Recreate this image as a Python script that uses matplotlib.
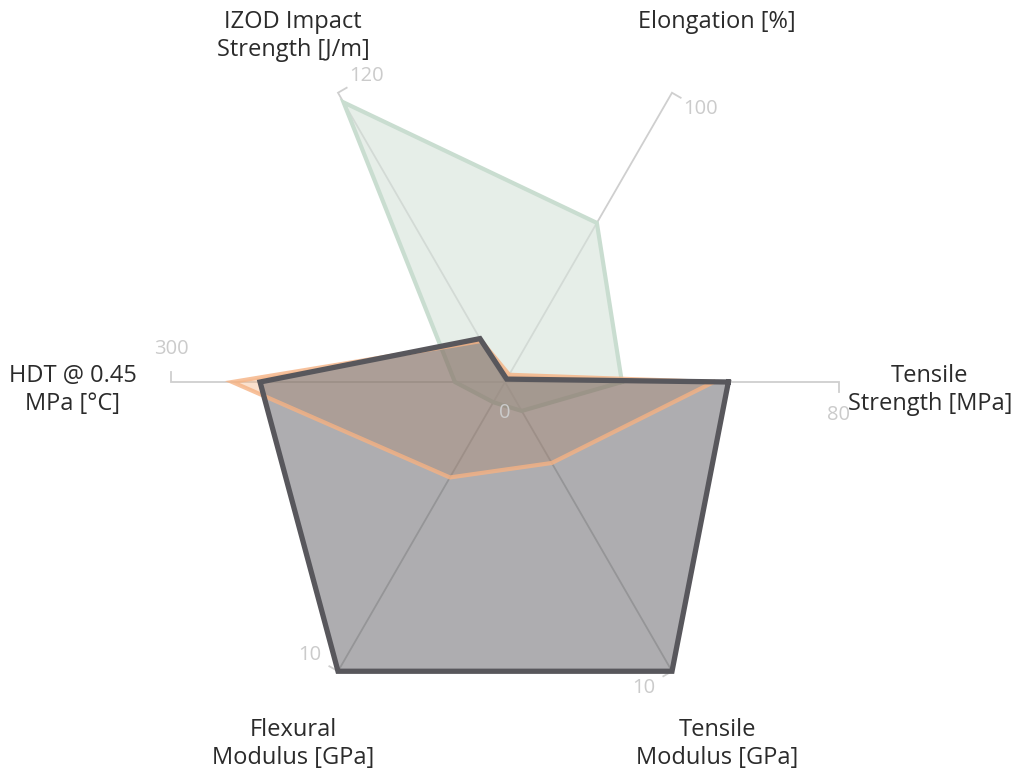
import numpy as np
import matplotlib
matplotlib.use("Agg")
import matplotlib.pyplot as plt

plt.rcParams["font.family"] = ["Open Sans", "DejaVu Sans"]

# axes, clockwise from the right, counter-clockwise in math terms
axis_labels = [
    "Tensile\nStrength [MPa]",
    "Elongation [%]",
    "IZOD Impact\nStrength [J/m]",
    "HDT @ 0.45\nMPa [°C]",
    "Flexural\nModulus [GPa]",
    "Tensile\nModulus [GPa]",
]
axis_max = [80, 100, 120, 300, 10, 10]
tick_labels = ["80", "100", "120", "300", "10", "10"]

# series values (same order as axis_labels)
green_vals = [28, 55, 116, 45, 0.7, 1.0]
orange_vals = [50, 2.5, 17, 245, 3.3, 2.8]
dark_vals = [53.5, 1.0, 18, 220, 10, 10]

W, H = 1021, 771
cx, cy, R = 505, 382, 334  # centre and radius in pixels

fig = plt.figure(figsize=(W / 100, H / 100), dpi=100)
ax = fig.add_axes([0, 0, 1, 1])
ax.set_xlim(-cx / R, (W - cx) / R)
ax.set_ylim(-(H - cy) / R, cy / R)
ax.axis("off")

angles = np.deg2rad(np.arange(len(axis_labels)) * 60.0)
px = 1.0 / R  # one pixel in data units


def to_xy(vals):
    r = np.array(vals, dtype=float) / np.array(axis_max, dtype=float)
    x = r * np.cos(angles)
    y = r * np.sin(angles)
    return np.append(x, x[0]), np.append(y, y[0])


# spokes with end stubs and tick labels
axis_col = "#cfcfcf"
for a, tl in zip(angles, tick_labels):
    ex, ey = np.cos(a), np.sin(a)
    sx, sy = np.cos(a - np.pi / 2), np.sin(a - np.pi / 2)
    ax.plot([0, ex, ex + 10 * px * sx], [0, ey, ey + 10 * px * sy],
            color=axis_col, lw=1.3, zorder=1, solid_joinstyle="miter")
    ax.text(ex + 33 * px * sx, ey + 33 * px * sy, tl, color="#cbcbcb",
            fontsize=14.5, ha="center", va="center", zorder=6)
ax.text(0, -31 * px, "0", color="#cbcbcb", fontsize=14.5,
        ha="center", va="center", zorder=6)

# axis titles
lab_kw = dict(color="#2b2b2b", fontsize=17, ha="center", linespacing=1.22)
for a, lab in zip(angles, axis_labels):
    s = np.sin(a)
    if abs(s) < 0.01:
        rr = 1.295 if np.cos(a) < 0 else 1.272
        ax.text(rr * np.cos(a), -8 * px, lab, va="center", **lab_kw)
    elif s > 0:
        ax.text(1.27 * np.cos(a), (cy - 10) * px, lab, va="top", **lab_kw)
    else:
        ax.text(1.27 * np.cos(a), -(718 - cy) * px, lab, va="top", **lab_kw)

# series
gx, gy = to_xy(green_vals)
ax.fill(gx, gy, color="#d6e3da", alpha=0.6, zorder=2, lw=0)
ax.plot(gx, gy, color="#c9ddd0", lw=3, zorder=2.1, solid_joinstyle="miter")

ox, oy = to_xy(orange_vals)
ax.fill(ox, oy, color="#f7b585", alpha=0.4, zorder=3, lw=0)

dx, dy_ = to_xy(dark_vals)
ax.fill(dx, dy_, color="#5a595e", alpha=0.49, zorder=4, lw=0)

ax.plot(ox, oy, color="#f5b283", lw=3, zorder=4.5, alpha=0.8,
        solid_joinstyle="miter")
ax.plot(dx, dy_, color="#58575c", lw=3.8, zorder=5, solid_joinstyle="miter")

fig.savefig("out.png", dpi=100)
